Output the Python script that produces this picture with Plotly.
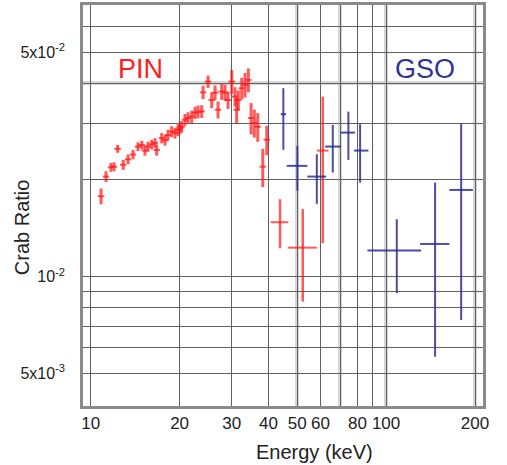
import plotly.graph_objects as go

# ---------------- data ----------------
pin_energy = [10.84, 11.27, 11.71, 12.0, 12.34, 12.89, 13.38, 13.91, 14.46, 14.89,
              15.27, 15.63, 16.09, 16.51, 16.73, 17.40, 17.85, 18.27, 18.80, 19.29,
              19.75, 20.06, 20.33, 20.86, 21.36, 21.98, 22.55, 23.09, 23.76, 24.01,
              24.96, 25.69, 26.36, 26.98, 27.77, 28.50, 29.17, 30.03, 30.81, 31.20,
              31.61, 32.46, 33.31, 34.18, 34.91, 35.81, 36.77, 38.24, 39.45]
pin_ratio = [0.0178, 0.0205, 0.0219, 0.0220, 0.0250, 0.0223, 0.0232, 0.0240, 0.0254, 0.0257,
             0.0247, 0.0254, 0.0258, 0.0261, 0.0248, 0.0270, 0.0266, 0.0276, 0.0283, 0.0280,
             0.0286, 0.0290, 0.0293, 0.0308, 0.0312, 0.0315, 0.0324, 0.0326, 0.0327, 0.0375,
             0.0405, 0.0355, 0.0374, 0.0331, 0.0377, 0.0374, 0.0355, 0.0405, 0.0364, 0.0331,
             0.0355, 0.0386, 0.0396, 0.0410, 0.0312, 0.0301, 0.0293, 0.0220, 0.0267]
pin_ratio_err = [0.0010, 0.0008, 0.0007, 0.0007, 0.0007, 0.0008, 0.0008, 0.0008, 0.0008, 0.0008,
                 0.0009, 0.0009, 0.0009, 0.0009, 0.0010, 0.0010, 0.0010, 0.0011, 0.0011, 0.0011,
                 0.0012, 0.0012, 0.0012, 0.0013, 0.0013, 0.0014, 0.0014, 0.0015, 0.0015, 0.0018,
                 0.0018, 0.0020, 0.0020, 0.0020, 0.0022, 0.0022, 0.0022, 0.0035, 0.0025, 0.0030,
                 0.0025, 0.0030, 0.0035, 0.0035, 0.0035, 0.0030, 0.0030, 0.0030, 0.0028]
pin_energy_err = [0.27, 0.28, 0.29, 0.30, 0.31, 0.32, 0.33, 0.35, 0.36, 0.37,
                  0.38, 0.39, 0.40, 0.41, 0.42, 0.43, 0.45, 0.46, 0.47, 0.48,
                  0.49, 0.50, 0.51, 0.52, 0.53, 0.55, 0.56, 0.58, 0.59, 0.60,
                  0.62, 0.64, 0.66, 0.67, 0.69, 0.71, 0.73, 0.75, 0.77, 0.78,
                  0.79, 0.81, 0.83, 0.85, 0.87, 0.90, 0.92, 0.95, 0.98]

# wide PIN bins (asymmetric errors)
pinw_energy = [43.75, 52.22, 61.06]
pinw_e_lo = [3.04, 5.75, 2.79]
pinw_e_hi = [2.94, 6.05, 2.72]
pinw_ratio = [0.01477, 0.01231, 0.02469]
pinw_r_lo = [0.00251, 0.00395, 0.01198]
pinw_r_hi = [0.00265, 0.00391, 0.01168]

# GSO bins
gso_energy = [44.89, 50.07, 58.27, 65.99, 74.54, 81.66, 108.7, 146.5, 179.5]
gso_e_lo = [0.90, 3.97, 4.13, 3.82, 4.29, 3.76, 22.26, 16.1, 15.7]
gso_e_hi = [0.96, 4.07, 4.39, 4.26, 3.98, 5.48, 22.7, 17.3, 17.1]
gso_ratio = [0.03206, 0.02213, 0.02049, 0.02541, 0.02809, 0.02469, 0.01205, 0.01264, 0.01862]
gso_r_lo = [0.00724, 0.00360, 0.00364, 0.00432, 0.00499, 0.00506, 0.00317, 0.00701, 0.01129]
gso_r_hi = [0.00657, 0.00341, 0.00357, 0.00428, 0.00457, 0.00515, 0.00304, 0.00699, 0.01128]

x_tickvals = [10, 20, 30, 40, 50, 60, 70, 80, 90, 100, 200]
x_ticktext = ["10", "20", "30", "40", "50", "60", "", "80", "", "100", "200"]
y_tickvals = [0.005, 0.006, 0.007, 0.008, 0.009, 0.01, 0.02, 0.03, 0.04, 0.05, 0.06]
y_ticktext = ["5x10<sup>-3</sup>", "", "", "", "", "10<sup>-2</sup>", "", "", "", "5x10<sup>-2</sup>", ""]
x_light = [50, 70, 100, 200]
y_light = [0.04]

RED = "rgba(255,25,25,0.72)"
BLUE = "rgba(45,45,150,0.85)"
FONT = "Liberation Sans, Arial, Helvetica, sans-serif"

fig = go.Figure()

fig.add_trace(go.Scatter(
    x=pin_energy, y=pin_ratio, mode="markers",
    marker=dict(size=1, opacity=0, color=RED),
    error_x=dict(type="data", array=pin_energy_err, color=RED, thickness=2, width=0),
    error_y=dict(type="data", array=pin_ratio_err, color=RED, thickness=3, width=0),
    showlegend=False, hoverinfo="skip"))

fig.add_trace(go.Scatter(
    x=pinw_energy, y=pinw_ratio, mode="markers",
    marker=dict(size=1, opacity=0, color=RED),
    error_x=dict(type="data", symmetric=False, array=pinw_e_hi, arrayminus=pinw_e_lo,
                 color=RED, thickness=2, width=0),
    error_y=dict(type="data", symmetric=False, array=pinw_r_hi, arrayminus=pinw_r_lo,
                 color=RED, thickness=2.5, width=0),
    showlegend=False, hoverinfo="skip"))

fig.add_trace(go.Scatter(
    x=gso_energy, y=gso_ratio, mode="markers",
    marker=dict(size=1, opacity=0, color=BLUE),
    error_x=dict(type="data", symmetric=False, array=gso_e_hi, arrayminus=gso_e_lo,
                 color=BLUE, thickness=2, width=0),
    error_y=dict(type="data", symmetric=False, array=gso_r_hi, arrayminus=gso_r_lo,
                 color=BLUE, thickness=2, width=0),
    showlegend=False, hoverinfo="skip"))

fig.update_xaxes(
    type="log", range=[0.974, 2.328],
    tickmode="array", tickvals=x_tickvals, ticktext=x_ticktext,
    showgrid=True, gridcolor="#606060", gridwidth=1,
    minor=dict(tickmode="array", tickvals=x_light, showgrid=True,
               gridcolor="rgba(205,205,205,0.8)", gridwidth=4, ticks=""),
    showline=True, linecolor="#8a8a8a", linewidth=2.5, mirror=True,
    ticks="", zeroline=False, automargin=False,
    tickfont=dict(family=FONT, size=17, color="#222"),
)
fig.update_yaxes(
    type="log", range=[-2.403, -1.154],
    tickmode="array", tickvals=y_tickvals, ticktext=y_ticktext,
    showgrid=True, gridcolor="#606060", gridwidth=1,
    minor=dict(tickmode="array", tickvals=y_light, showgrid=True,
               gridcolor="rgba(205,205,205,0.8)", gridwidth=4, ticks=""),
    showline=True, linecolor="#8a8a8a", linewidth=2.5, mirror=True,
    ticks="", zeroline=False, automargin=False, ticklabelstandoff=12,
    tickfont=dict(family=FONT, size=16, color="#222"),
)

fig.add_annotation(text="PIN", xref="x", yref="paper", x=1.170, y=0.84,
                   showarrow=False, xanchor="center", yanchor="middle",
                   font=dict(family=FONT, size=27, color="rgb(255,30,30)"))
fig.add_annotation(text="GSO", xref="x", yref="paper", x=2.132, y=0.84,
                   showarrow=False, xanchor="center", yanchor="middle",
                   font=dict(family=FONT, size=27, color="rgb(50,50,150)"))
fig.add_annotation(text="Energy (keV)", xref="paper", yref="paper",
                   x=(314 - 83) / 400, y=-0.115, showarrow=False,
                   xanchor="center", yanchor="middle",
                   font=dict(family=FONT, size=20, color="#222"))
fig.add_annotation(text="Crab Ratio", xref="paper", yref="paper",
                   x=-0.152, y=(406 - 227) / 401, showarrow=False, textangle=-90,
                   xanchor="center", yanchor="middle",
                   font=dict(family=FONT, size=20, color="#222"))

fig.update_layout(
    width=507, height=465,
    margin=dict(l=83, r=24, t=5, b=59),
    plot_bgcolor="white", paper_bgcolor="white",
    showlegend=False,
)

fig.write_html("out.html", config={"displayModeBar": False},
               post_script="document.body.style.margin='0';document.body.style.padding='0';")
